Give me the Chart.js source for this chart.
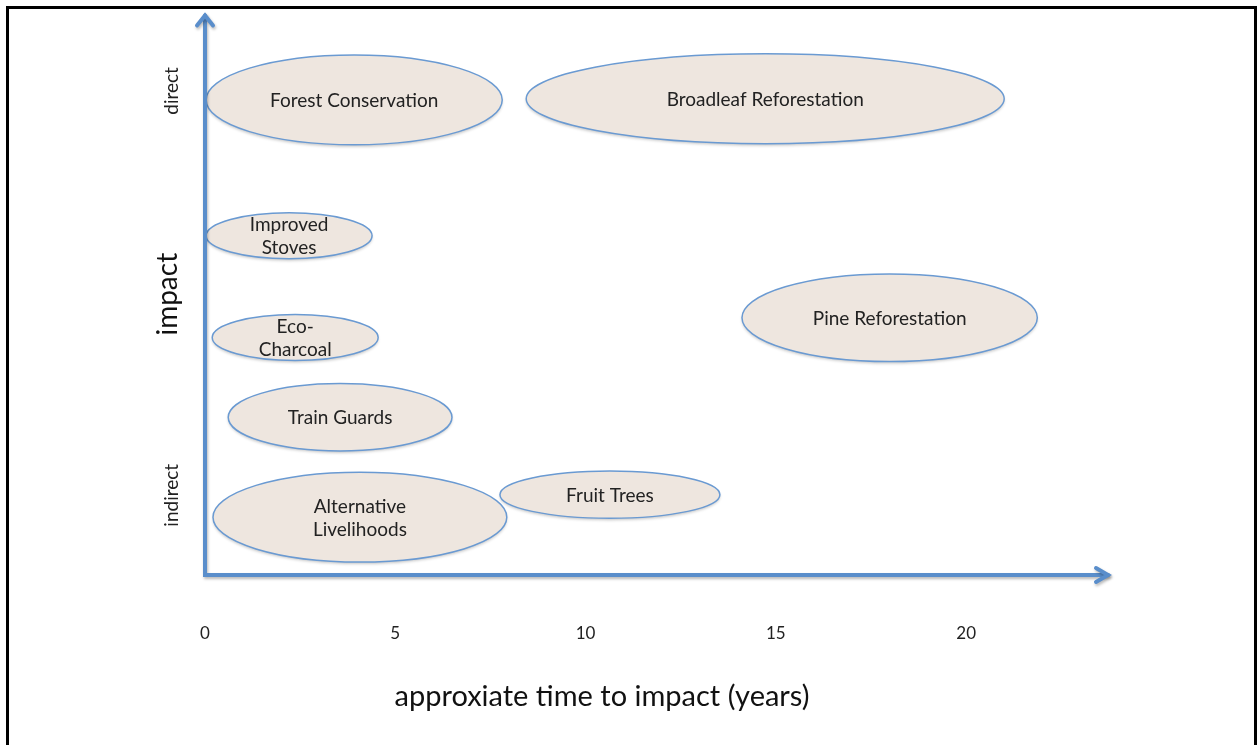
<!DOCTYPE html>
<html>
<head>
<meta charset="utf-8">
<title>Impact vs time</title>
<script src="https://cdn.jsdelivr.net/npm/chart.js@4.4.1/dist/chart.umd.min.js"></script>
<style>
  html, body { margin: 0; padding: 0; background: #fff; }
  #wrap { position: relative; width: 1257px; height: 745px; overflow: hidden; }
  #impactChart { position: absolute; left: 0; top: 0; }
  /* black frame round the slide, open at the bottom */
  #frame {
    position: absolute; left: 6px; top: 6px; width: 1245px; height: 800px;
    border-top: 3px solid #000; border-left: 3px solid #000; border-right: 3px solid #000;
    pointer-events: none;
  }
</style>
</head>
<body>
<div id="wrap">
  <canvas id="impactChart" width="1257" height="745"></canvas>
  <div id="frame"></div>
</div>
<script>
// projects, one ellipse each
const projectLabels = [
  ['Forest Conservation'],
  ['Broadleaf Reforestation'],
  ['Improved', 'Stoves'],
  ['Pine Reforestation'],
  ['Eco-', 'Charcoal'],
  ['Train Guards'],
  ['Alternative', 'Livelihoods'],
  ['Fruit Trees']
];
// centre of each ellipse: years to impact / impact level
const centreYears  = [3.92, 14.72, 2.21, 17.99, 2.37, 3.55, 4.07, 10.64];
const centreImpact = [8.46, 8.48, 6.04, 4.58, 4.23, 2.81, 1.03, 1.43];
// half-width (years) and half-height (impact units) of each ellipse
const spreadYears  = [3.89, 6.28, 2.18, 3.88, 2.18, 2.94, 3.86, 2.89];
const spreadImpact = [0.80, 0.80, 0.41, 0.78, 0.41, 0.60, 0.80, 0.42];

const xTicks = [0, 5, 10, 15, 20];
const yTickValues = [1.42, 8.62];
const yTickLabels = ['indirect', 'direct'];

const AXIS_BLUE = '#5a8ecb';
const FONT = 'Lato, "Open Sans", sans-serif';

// axis arrows, drawn on top of the ellipses
const axisArrows = {
  id: 'axisArrows',
  afterDatasetsDraw(chart) {
    const { ctx, chartArea: a } = chart;
    ctx.save();
    ctx.strokeStyle = AXIS_BLUE;
    ctx.lineWidth = 4;
    ctx.lineCap = 'round';
    ctx.lineJoin = 'miter';
    ctx.shadowColor = 'rgba(0,0,0,0.28)';
    ctx.shadowBlur = 3;
    ctx.shadowOffsetX = 1;
    ctx.shadowOffsetY = 2;
    ctx.beginPath();
    ctx.moveTo(a.left, a.top + 2);
    ctx.lineTo(a.left, a.bottom);
    ctx.lineTo(a.right - 2, a.bottom);
    ctx.stroke();
    // heads
    ctx.beginPath();
    ctx.moveTo(a.left - 8, a.top + 12);
    ctx.lineTo(a.left, a.top + 2);
    ctx.lineTo(a.left + 8, a.top + 12);
    ctx.moveTo(a.right - 14, a.bottom - 7);
    ctx.lineTo(a.right - 2, a.bottom);
    ctx.lineTo(a.right - 14, a.bottom + 7);
    ctx.stroke();
    ctx.restore();
  }
};

// ellipses with their labels, placed through the chart scales
const projectEllipses = {
  id: 'projectEllipses',
  afterDatasetsDraw(chart) {
    const { ctx } = chart;
    const xs = chart.scales.x, ys = chart.scales.y;
    const meta = chart.getDatasetMeta(0);
    meta.data.forEach((pt, i) => {
      const rx = xs.getPixelForValue(centreYears[i] + spreadYears[i]) - pt.x;
      const ry = pt.y - ys.getPixelForValue(centreImpact[i] + spreadImpact[i]);
      ctx.save();
      ctx.beginPath();
      ctx.ellipse(pt.x, pt.y, rx, ry, 0, 0, Math.PI * 2);
      ctx.shadowColor = 'rgba(0,0,0,0.22)';
      ctx.shadowBlur = 3;
      ctx.shadowOffsetY = 2;
      ctx.fillStyle = '#eee6df';
      ctx.fill();
      ctx.shadowColor = 'transparent';
      ctx.lineWidth = 1.5;
      ctx.strokeStyle = '#6a9ad2';
      ctx.stroke();

      const lines = projectLabels[i];
      const lh = 23;
      ctx.fillStyle = '#222';
      ctx.font = '19px ' + FONT;
      ctx.textAlign = 'center';
      ctx.textBaseline = 'middle';
      lines.forEach((t, j) => {
        ctx.fillText(t, pt.x, pt.y + (j - (lines.length - 1) / 2) * lh + 1);
      });
      ctx.restore();
    });
  }
};

// x axis title, set left of the axis centre as in the slide
const xTitle = {
  id: 'xTitle',
  afterDraw(chart) {
    const { ctx } = chart;
    ctx.save();
    ctx.font = '29px ' + FONT;
    ctx.fillStyle = '#111';
    ctx.textAlign = 'center';
    ctx.textBaseline = 'middle';
    ctx.fillText('approxiate time to impact (years)', 602, 697);
    ctx.restore();
  }
};

new Chart(document.getElementById('impactChart'), {
  type: 'scatter',
  data: {
    datasets: [{
      data: centreYears.map((x, i) => ({ x, y: centreImpact[i] })),
      pointRadius: 0,
      pointHoverRadius: 0
    }]
  },
  options: {
    responsive: false,
    animation: false,
    events: [],
    layout: { padding: { top: 10, right: 147, left: 0, bottom: 0 } },
    plugins: { legend: { display: false }, tooltip: { enabled: false } },
    scales: {
      x: {
        type: 'linear',
        min: 0,
        max: 23.78,
        afterBuildTicks: s => { s.ticks = xTicks.map(v => ({ value: v })); },
        afterFit: s => { s.height = 170; },
        grid: { display: false, drawTicks: false },
        border: { display: false },
        ticks: {
          padding: 48,
          color: '#222',
          font: { family: FONT, size: 17 },
          maxRotation: 0
        }
      },
      y: {
        type: 'linear',
        min: 0,
        max: 10,
        afterBuildTicks: s => { s.ticks = yTickValues.map(v => ({ value: v })); },
        afterFit: s => { s.width = 205; },
        grid: { display: false, drawTicks: false },
        border: { display: false },
        ticks: {
          callback: (v, i) => yTickLabels[i],
          minRotation: 90,
          maxRotation: 90,
          crossAlign: 'center',
          padding: 2,
          color: '#222',
          font: { family: FONT, size: 19 }
        },
        title: {
          display: true,
          text: 'impact',
          color: '#111',
          font: { family: FONT, size: 28 },
          padding: { top: 151, bottom: 0 }
        }
      }
    }
  },
  plugins: [projectEllipses, axisArrows, xTitle]
});
</script>
</body>
</html>
